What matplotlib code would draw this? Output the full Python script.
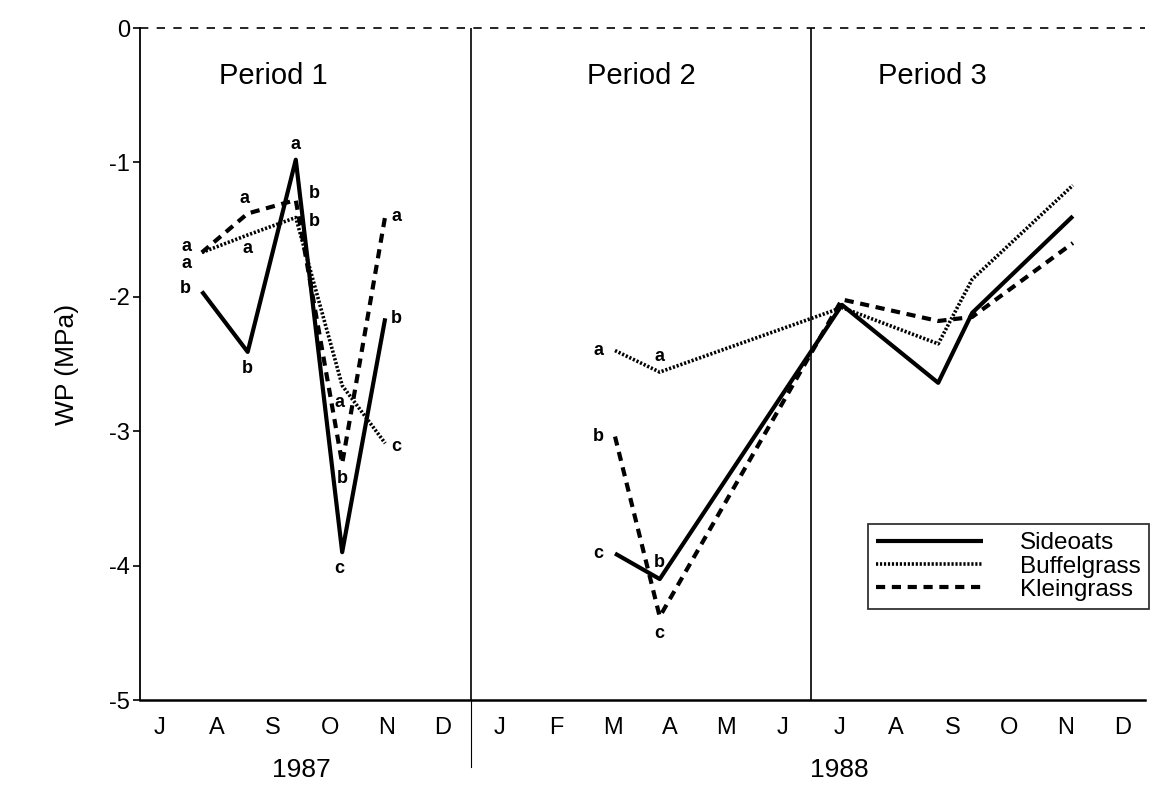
import matplotlib
matplotlib.use('Agg')
from matplotlib import pyplot as plt
from matplotlib.lines import Line2D

plt.rcParams['font.family'] = ['Liberation Sans', 'DejaVu Sans']

# month index: 0 = July 1987
month_labels = ['J', 'A', 'S', 'O', 'N', 'D', 'J', 'F', 'M', 'A', 'M', 'J',
                'J', 'A', 'S', 'O', 'N', 'D']

# period 1 (1987)
p1_x = [0.74, 1.55, 2.40, 3.22, 3.98]
side_p1 = [-1.96, -2.41, -0.98, -3.90, -2.16]
buff_p1 = [-1.67, -1.54, -1.41, -2.66, -3.09]
klein_p1 = [-1.67, -1.38, -1.28, -3.24, -1.40]

# periods 2 and 3 (1988)
p23_x = [8.04, 8.83, 12.05, 13.75, 14.35, 16.13]
side_p23 = [-3.91, -4.10, -2.06, -2.64, -2.12, -1.40]
buff_p23 = [-2.40, -2.56, -2.08, -2.35, -1.87, -1.17]
klein_p23 = [-3.04, -4.38, -2.02, -2.18, -2.15, -1.60]

# significance letters
side_p1_lab = ['b', 'b', 'a', 'c', 'b']
buff_p1_lab = ['a', 'a', 'b', 'a', 'c']
klein_p1_lab = ['a', 'a', 'b', 'b', 'a']
side_p2_lab = ['c', 'b']
buff_p2_lab = ['a', 'a']
klein_p2_lab = ['b', 'c']

fig = plt.figure(figsize=(11.51, 7.89), dpi=100)
ax = fig.add_axes([0.1216, 0.1128, 0.873, 0.8517])

solid = dict(color='black', lw=3.0, ls='-', solid_capstyle='butt')
dotted = dict(color='black', lw=2.6, ls=(0, (0.6, 0.5)))
dashed = dict(color='black', lw=3.0, ls=(0, (2.2, 1.6)))

ax.plot(p1_x, side_p1, **solid)
ax.plot(p1_x, buff_p1, **dotted)
ax.plot(p1_x, klein_p1, **dashed)
ax.plot(p23_x, side_p23, **solid)
ax.plot(p23_x, buff_p23, **dotted)
ax.plot(p23_x, klein_p23, **dashed)

lab_kw = dict(textcoords='offset points', fontsize=13, fontweight='bold',
              ha='center', va='center')

# period 1 letters
side_off = [(-12, 2), (0, -12), (0, 11), (-2, -12), (8, 0)]
buff_off = [(-11, -8), (0, -10), (13, -3), (-2, -12), (8, -2)]
klein_off = [(-11, 4), (-2, 11), (13, 5), (0, -11), (8, 0)]
for xv, yv, t, o in zip(p1_x, side_p1, side_p1_lab, side_off):
    ax.annotate(t, (xv, yv), xytext=o, **lab_kw)
for xv, yv, t, o in zip(p1_x, buff_p1, buff_p1_lab, buff_off):
    ax.annotate(t, (xv, yv), xytext=o, **lab_kw)
for xv, yv, t, o in zip(p1_x, klein_p1, klein_p1_lab, klein_off):
    ax.annotate(t, (xv, yv), xytext=o, **lab_kw)

# period 2 letters
for xv, yv, t, o in zip(p23_x[:2], side_p23[:2], side_p2_lab, [(-12, 0), (0, 12)]):
    ax.annotate(t, (xv, yv), xytext=o, **lab_kw)
for xv, yv, t, o in zip(p23_x[:2], buff_p23[:2], buff_p2_lab, [(-12, 0), (0, 11)]):
    ax.annotate(t, (xv, yv), xytext=o, **lab_kw)
for xv, yv, t, o in zip(p23_x[:2], klein_p23[:2], klein_p2_lab, [(-12, 0), (0, -12)]):
    ax.annotate(t, (xv, yv), xytext=o, **lab_kw)

ax.set_xlim(-0.353, 17.4)
ax.set_ylim(-5, 0)

ax.spines['top'].set_visible(False)
ax.spines['right'].set_visible(False)
ax.spines['left'].set_linewidth(1.3)
ax.spines['bottom'].set_linewidth(1.8)
ax.axhline(0, color='black', lw=1.2, ls=(0, (5, 5)), clip_on=False)

# period dividers
ax.axvline(5.5, color='black', lw=1.2)
ax.axvline(11.5, color='black', lw=1.2)
ax.plot([5.5, 5.5], [-5, -5.5], color='black', lw=0.8, clip_on=False)

ax.set_xticks(range(len(month_labels)))
ax.set_xticklabels(month_labels, fontsize=17)
ax.tick_params(axis='x', length=0, pad=12)
ax.set_yticks([0, -1, -2, -3, -4, -5])
ax.set_yticklabels(['0', '-1', '-2', '-3', '-4', '-5'], fontsize=17)
ax.tick_params(axis='y', length=5, width=1.2, pad=2)
ax.set_ylabel('WP (MPa)', fontsize=19, labelpad=22)

ax.text(2.5, -5.52, '1987', fontsize=19, ha='center', va='center')
ax.text(12.0, -5.52, '1988', fontsize=19, ha='center', va='center')

ax.text(2.0, -0.36, 'Period 1', fontsize=21, ha='center', va='center')
ax.text(8.5, -0.36, 'Period 2', fontsize=21, ha='center', va='center')
ax.text(13.65, -0.36, 'Period 3', fontsize=21, ha='center', va='center')

handles = [Line2D([], [], **solid), Line2D([], [], **dotted),
           Line2D([], [], **dashed)]
leg = ax.legend(handles, ['Sideoats', 'Buffelgrass', 'Kleingrass'],
                loc='lower right', bbox_to_anchor=(1.004, 0.135),
                fontsize=17.5, frameon=True, fancybox=False, handlelength=4.4,
                handletextpad=1.5, labelspacing=0.05, borderpad=0.35,
                borderaxespad=0.0)
leg.get_frame().set_edgecolor('black')
leg.get_frame().set_linewidth(1.3)

fig.savefig('out.png', dpi=100)
